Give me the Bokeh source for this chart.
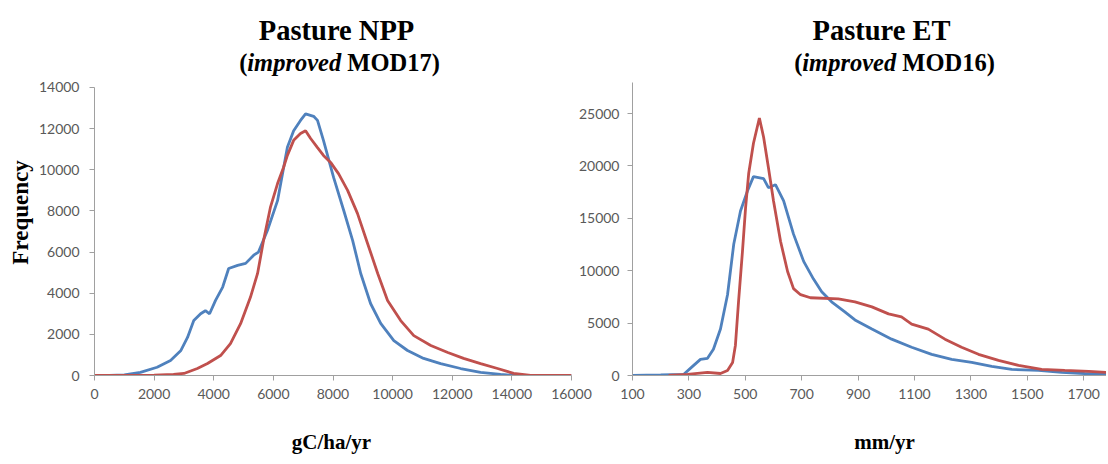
from bokeh.plotting import figure
from bokeh.layouts import row, column
from bokeh.models import Range1d, FixedTicker
from bokeh.core.properties import value
from bokeh.embed import file_html
from bokeh.resources import INLINE

# ---------------- data ----------------
# Pasture NPP (gC/ha/yr) -- blue series
npp_x_blue = [0, 500, 1000, 1540, 2100, 2550, 2890, 3120, 3330, 3560, 3720, 3860, 4060, 4300,
              4500, 4800, 5070, 5340, 5500, 5800, 6140, 6470, 6680, 6910, 7080, 7350, 7480,
              7680, 8020, 8360, 8660, 8930, 9260, 9600, 10040, 10500, 11040, 11610, 12280,
              12950, 13620, 14200, 15000, 16000]
npp_y_blue = [0, 0, 30, 150, 400, 730, 1200, 1850, 2670, 3000, 3150, 3000, 3650, 4300,
              5200, 5350, 5450, 5850, 6000, 7050, 8500, 11100, 11900, 12400, 12720, 12600, 12400,
              11430, 9630, 8020, 6560, 4960, 3500, 2530, 1700, 1215, 830, 580, 340,
              150, 50, 0, 0, 0]
# Pasture NPP -- red series
npp_x_red = [0, 1000, 2000, 2650, 3000, 3450, 3790, 4230, 4560, 4900, 5230, 5470, 5670, 5900,
             6140, 6340, 6470, 6680, 6910, 7080, 7250, 7480, 7680, 7920, 8190, 8490, 8820,
             9160, 9500, 9830, 10270, 10710, 11280, 11850, 12380, 12950, 13520, 14060, 14630,
             15500, 16000]
npp_y_red = [0, 0, 20, 50, 100, 340, 580, 970, 1550, 2520, 3800, 4960, 6560, 8170,
             9330, 10110, 10700, 11430, 11760, 11900, 11520, 11080, 10700, 10360, 9800, 9000, 7880,
             6420, 4960, 3650, 2670, 1940, 1460, 1120, 830, 580, 340, 100, 0,
             0, 0]

# Pasture ET (mm/yr) -- blue series
et_x_blue = [100, 200, 281, 313, 341, 366, 387, 412, 437, 459, 483, 508, 529, 565, 582, 607,
             636, 671, 707, 742, 771, 806, 853, 889, 949, 1019, 1090, 1161, 1232, 1303, 1374,
             1445, 1540, 1622, 1703, 1789]
et_y_blue = [0, 50, 100, 870, 1540, 1640, 2500, 4430, 7710, 12520, 15700, 17630, 18980, 18790,
             17920, 18210, 16670, 13490, 10890, 9200, 8000, 7030, 6070, 5300, 4430, 3470, 2700,
             2020, 1540, 1250, 870, 580, 480, 290, 190, 100]
# Pasture ET -- red series
et_x_red = [228, 295, 366, 412, 437, 455, 465, 476, 490, 501, 512, 529, 550, 565, 582, 600,
            625, 650, 671, 696, 731, 830, 889, 949, 1008, 1054, 1090, 1149, 1208, 1267, 1327,
            1398, 1469, 1551, 1633, 1718, 1789]
et_y_red = [0, 100, 290, 190, 480, 1250, 2890, 7030, 11850, 15990, 19270, 22160, 24570, 22740,
            19850, 16670, 12810, 9920, 8290, 7710, 7420, 7320, 7030, 6550, 5880, 5590, 4910,
            4430, 3470, 2700, 2020, 1450, 960, 580, 480, 390, 290]

npp_xticks = [0, 2000, 4000, 6000, 8000, 10000, 12000, 14000, 16000]
npp_yticks = [0, 2000, 4000, 6000, 8000, 10000, 12000, 14000]
et_xticks = [100, 300, 500, 700, 900, 1100, 1300, 1500, 1700]
et_yticks = [0, 5000, 10000, 15000, 20000, 25000]

BLUE = "#4F81BD"
RED = "#C0504D"
AXIS = "#A0A0A0"
TICKTXT = "#595959"
SERIF = "Liberation Serif"
W, H = 1106, 456
TOP, BOTTOM = 82, 81


def style(p, xt, yt, standoff_y):
    p.xaxis.ticker = FixedTicker(ticks=xt)
    p.yaxis.ticker = FixedTicker(ticks=yt)
    for ax in (p.xaxis[0], p.yaxis[0]):
        ax.axis_line_color = AXIS
        ax.major_tick_line_color = AXIS
        ax.minor_tick_line_color = None
        ax.major_tick_in = 0
        ax.major_tick_out = 5
        ax.major_label_text_font = "Lato"
        ax.major_label_text_font_size = "14px"
        ax.major_label_text_color = TICKTXT
    p.xaxis.major_label_standoff = 8
    p.yaxis.major_label_standoff = standoff_y
    p.xgrid.grid_line_color = None
    p.ygrid.grid_line_color = None
    p.outline_line_color = None


# ---------------- left chart ----------------
p1 = figure(width=595, height=H, x_range=Range1d(0, 16000), y_range=Range1d(0, 14243),
            output_backend="svg", toolbar_location=None,
            min_border_left=94, min_border_right=24, min_border_top=TOP, min_border_bottom=BOTTOM)
style(p1, npp_xticks, npp_yticks, 10)
p1.yaxis.bounds = (0, 14000)
p1.line(npp_x_blue, npp_y_blue, line_color=BLUE, line_width=2.8)
p1.line(npp_x_red, npp_y_red, line_color=RED, line_width=2.8)

# ---------------- right chart ----------------
p2 = figure(width=531, height=H, x_range=Range1d(100, 1781), y_range=Range1d(0, 27960),
            output_backend="svg", toolbar_location=None,
            min_border_left=57, min_border_right=0, min_border_top=TOP, min_border_bottom=BOTTOM,
            margin=(0, 0, 0, -20), border_fill_color=None, background_fill_color=None)
style(p2, et_xticks, et_yticks, 8)
p2.line(et_x_blue, et_y_blue, line_color=BLUE, line_width=2.8)
p2.line(et_x_red, et_y_red, line_color=RED, line_width=2.8)

# ---------------- transparent text overlay (page-pixel coordinates) ----------------
ov = figure(width=W, height=H, x_range=Range1d(0, W), y_range=Range1d(H, 0),
            output_backend="svg", toolbar_location=None, x_axis_location=None,
            y_axis_location=None, min_border=0, margin=(-H, 0, 0, 0),
            border_fill_color=None, background_fill_color=None, outline_line_color=None)
ov.xgrid.grid_line_color = None
ov.ygrid.grid_line_color = None


def put(x, y, text, size, st="bold", align="center", baseline="alphabetic", angle=0.0):
    ov.text(x=[x], y=[y], text=[text], text_font=value(SERIF), text_font_style=st,
            text_font_size=f"{size}px", text_align=align, text_baseline=baseline,
            angle=angle, text_color="black")


def titles(cx1, cx2, name, model, s1=28.5, s2=24.5):
    put(cx1, 30, name, s1)
    w_open = 0.333 * s2
    w_imp = 3.833 * s2
    w_sp = 0.25 * s2
    w_rest = 3.777 * s2
    start = cx2 - (w_open + w_imp + w_sp + w_rest) / 2
    put(start, 62, "(", s2, align="left")
    put(start + w_open, 62, "improved", s2, st="bold italic", align="left")
    put(start + w_open + w_imp + w_sp, 62, model + ")", s2, align="left")


titles(336, 339, "Pasture NPP", "MOD17")
titles(881, 894, "Pasture ET", "MOD16")
put(20, 212, "Frequency", 23, baseline="middle", angle=1.5708)
put(331, 441, "gC/ha/yr", 21, baseline="middle")
put(884, 441, "mm/yr", 21, baseline="middle")

layout = column(row(p1, p2), ov)
open("out.html", "w").write(file_html(layout, INLINE))
